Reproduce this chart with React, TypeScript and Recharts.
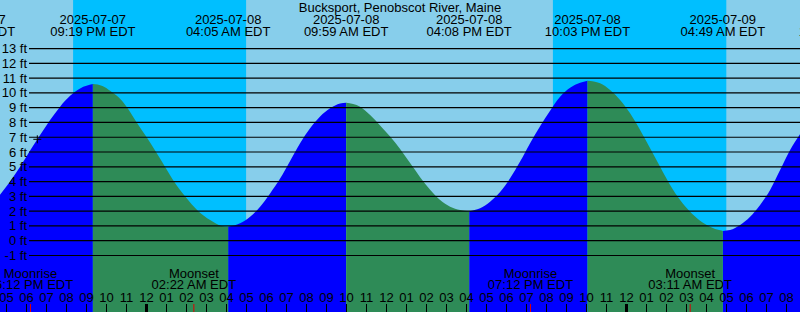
import { ComposedChart, Area, XAxis, YAxis, ReferenceArea, ReferenceDot } from 'recharts'

// all times are hours since 2025-07-07 00:00 EDT
const stationName = 'Bucksport, Penobscot River, Maine'

const tideHours = [
  16.67, 17.18, 17.68, 18.18, 18.68, 19.18, 19.68, 20.18, 20.68, 21.317,
  21.8, 22.18, 22.59, 23.04, 23.51, 24.01, 24.475, 24.925, 25.375, 25.925, 26.59, 27.18, 27.76, 28.083,
  28.68, 29.18, 29.68, 30.18, 30.68, 31.18, 31.68, 32.18, 32.68, 33.18, 33.68, 33.983,
  34.68, 35.18, 35.68, 36.18, 36.68, 37.18, 37.68, 38.18, 38.68, 39.18, 39.68, 40.133,
  40.68, 41.18, 41.68, 42.18, 42.68, 43.18, 43.68, 44.18, 44.68, 45.18, 45.68, 46.05,
  46.68, 47.18, 47.68, 48.18, 48.68, 49.18, 49.68, 50.18, 50.68, 51.18, 51.68, 52.18, 52.68, 52.817,
  53.18, 53.68, 54.18, 54.68, 55.18, 55.68, 56.18, 56.68,
]
const tideFeet = [
  3.1, 4.0, 5.0, 6.1, 7.15, 8.17, 9.07, 9.8, 10.3, 10.6,
  10.47, 10.15, 9.72, 9.0, 8.0, 7.0, 6.0, 5.0, 4.0, 3.0, 2.0, 1.4, 1.0, 0.95,
  1.18, 1.62, 2.3, 3.2, 4.2, 5.4, 6.6, 7.6, 8.4, 8.96, 9.28, 9.34,
  9.07, 8.5, 7.8, 7.05, 6.2, 5.25, 4.3, 3.45, 2.75, 2.3, 2.08, 2.0,
  2.19, 2.64, 3.3, 4.22, 5.35, 6.6, 7.75, 8.8, 9.74, 10.35, 10.69, 10.83,
  10.65, 10.2, 9.52, 8.62, 7.49, 6.25, 5.0, 3.77, 2.75, 1.96, 1.35, 0.95, 0.7, 0.66,
  0.72, 1.06, 1.62, 2.42, 3.43, 4.78, 6.14, 7.22,
]

const tideEvents = [
  { hour: 15.3, kind: 'low', date: '2025-07-07', time: '03:18 PM EDT' },
  { hour: 21.317, kind: 'high', date: '2025-07-07', time: '09:19 PM EDT' },
  { hour: 28.083, kind: 'low', date: '2025-07-08', time: '04:05 AM EDT' },
  { hour: 33.983, kind: 'high', date: '2025-07-08', time: '09:59 AM EDT' },
  { hour: 40.133, kind: 'low', date: '2025-07-08', time: '04:08 PM EDT' },
  { hour: 46.05, kind: 'high', date: '2025-07-08', time: '10:03 PM EDT' },
  { hour: 52.817, kind: 'low', date: '2025-07-09', time: '04:49 AM EDT' },
  { hour: 58.73, kind: 'high', date: '2025-07-09', time: '10:44 AM EDT' },
]

const moonEvents = [
  { hour: 18.2, name: 'Moonrise', time: '06:12 PM EDT' },
  { hour: 26.367, name: 'Moonset', time: '02:22 AM EDT' },
  { hour: 43.2, name: 'Moonrise', time: '07:12 PM EDT' },
  { hour: 51.183, name: 'Moonset', time: '03:11 AM EDT' },
]

// sunset -> sunrise
const nights = [
  [20.33, 28.98],
  [44.32, 52.99],
]

const hourTicks = [
  17, 18, 19, 20, 21, 22, 23, 24, 25, 26, 27, 28, 29, 30, 31, 32, 33, 34, 35, 36,
  37, 38, 39, 40, 41, 42, 43, 44, 45, 46, 47, 48, 49, 50, 51, 52, 53, 54, 55, 56,
]
const feetTicks = [-1, 0, 1, 2, 3, 4, 5, 6, 7, 8, 9, 10, 11, 12, 13]

const nowMark = { hour: 18.54, ft: 6.86 }

const xDomain = [16.675, 56.675]
const yDomain = [-4.824, 16.285]

const font = '"Liberation Sans", Arial, sans-serif'

const tideRows = tideHours.map((hour, i) => {
  const ft = tideFeet[i]
  const atEvent = tideEvents.some((e) => Math.abs(e.hour - hour) < 0.001)
  const next = tideEvents.find((e) => e.hour > hour + 0.001)
  const rising = next ? next.kind === 'high' : false
  return {
    hour,
    rise: rising || atEvent ? ft : null,
    fall: !rising || atEvent ? ft : null,
  }
})

function hourLabel(h: number) {
  const v = h % 12 === 0 ? 12 : h % 12
  return String(v).padStart(2, '0')
}

function HourTick(props: any) {
  const { x, payload } = props
  const h = payload.value
  const midnight = h % 24 === 0
  return (
    <g>
      <text x={x} y={302} textAnchor="middle" fontSize={13} fontFamily={font} fill="#000">
        {hourLabel(h)}
      </text>
      <rect x={midnight ? x - 1.5 : x - 0.5} y={304} width={midnight ? 3 : 1} height={8} fill="#000" />
    </g>
  )
}

function MoonTick(props: any) {
  const { x, payload } = props
  const ev = moonEvents.find((m) => m.hour === payload.value)
  if (!ev) return <g />
  return (
    <g>
      <text x={x} y={278} textAnchor="middle" fontSize={13} fontFamily={font} fill="#000">
        {ev.name}
      </text>
      <text x={x} y={289} textAnchor="middle" fontSize={13} fontFamily={font} fill="#000">
        {ev.time}
      </text>
      <rect x={x - 0.5} y={304} width={1} height={8} fill="#e00000" />
    </g>
  )
}

function EventTick(props: any) {
  const { x, payload } = props
  const ev = tideEvents.find((e) => e.hour === payload.value)
  if (!ev) return <g />
  return (
    <g>
      <text x={x} y={24} textAnchor="middle" fontSize={13} fontFamily={font} fill="#000">
        {ev.date}
      </text>
      <text x={x} y={36} textAnchor="middle" fontSize={13} fontFamily={font} fill="#000">
        {ev.time}
      </text>
    </g>
  )
}

function FeetTick(props: any) {
  const { payload } = props
  const y = payload.coordinate ?? props.y
  return (
    <g>
      <text x={27} y={y + 4.5} textAnchor="end" fontSize={13} fontFamily={font} fill="#000">
        {`${payload.value} ft`}
      </text>
      <line x1={29} x2={800} y1={y} y2={y} stroke="#000" strokeWidth={1.2} />
    </g>
  )
}

function Cross(props: any) {
  const { cx, cy } = props
  return (
    <g stroke="#000" strokeWidth={1}>
      <line x1={cx - 4} x2={cx + 4} y1={cy} y2={cy} />
      <line x1={cx} x2={cx} y1={cy - 4} y2={cy + 4} />
    </g>
  )
}

export default function App() {
  return (
    <div style={{ position: 'absolute', left: 0, top: 0, width: 800, height: 312, background: '#87ceeb' }}>
      <ComposedChart width={800} height={312} data={tideRows} margin={{ top: 0, right: 0, bottom: 0, left: 0 }}>
        <XAxis
          xAxisId={0}
          type="number"
          dataKey="hour"
          domain={xDomain}
          allowDataOverflow
          ticks={hourTicks}
          interval={0}
          mirror
          height={30}
          axisLine={false}
          tickLine={false}
          tick={HourTick}
        />
        <XAxis
          xAxisId="moon"
          type="number"
          dataKey="hour"
          domain={xDomain}
          allowDataOverflow
          ticks={moonEvents.map((m) => m.hour)}
          interval={0}
          mirror
          height={30}
          axisLine={false}
          tickLine={false}
          tick={MoonTick}
        />
        <XAxis
          xAxisId="events"
          orientation="top"
          type="number"
          dataKey="hour"
          domain={xDomain}
          allowDataOverflow
          ticks={tideEvents.map((e) => e.hour)}
          interval={0}
          mirror
          height={30}
          axisLine={false}
          tickLine={false}
          tick={EventTick}
        />
        <YAxis
          type="number"
          domain={yDomain}
          allowDataOverflow
          ticks={feetTicks}
          interval={0}
          mirror
          width={60}
          axisLine={false}
          tickLine={false}
          tick={FeetTick}
        />
        {nights.map(([a, b], i) => (
          <ReferenceArea key={i} x1={a} x2={b} fill="#00bfff" fillOpacity={1} stroke="none" zIndex={-50} />
        ))}
        <Area
          type="monotone"
          dataKey="rise"
          baseValue="dataMin"
          fill="#0000ff"
          fillOpacity={1}
          stroke="none"
          isAnimationActive={false}
        />
        <Area
          type="monotone"
          dataKey="fall"
          baseValue="dataMin"
          fill="#2e8b57"
          fillOpacity={1}
          stroke="none"
          isAnimationActive={false}
        />
        <ReferenceDot x={nowMark.hour} y={nowMark.ft} shape={Cross} />
      </ComposedChart>
      <div
        style={{
          position: 'absolute',
          left: 0,
          top: 0,
          width: 800,
          textAlign: 'center',
          fontFamily: font,
          fontSize: 13,
          lineHeight: '15px',
          color: '#000',
        }}
      >
        {stationName}
      </div>
    </div>
  )
}
